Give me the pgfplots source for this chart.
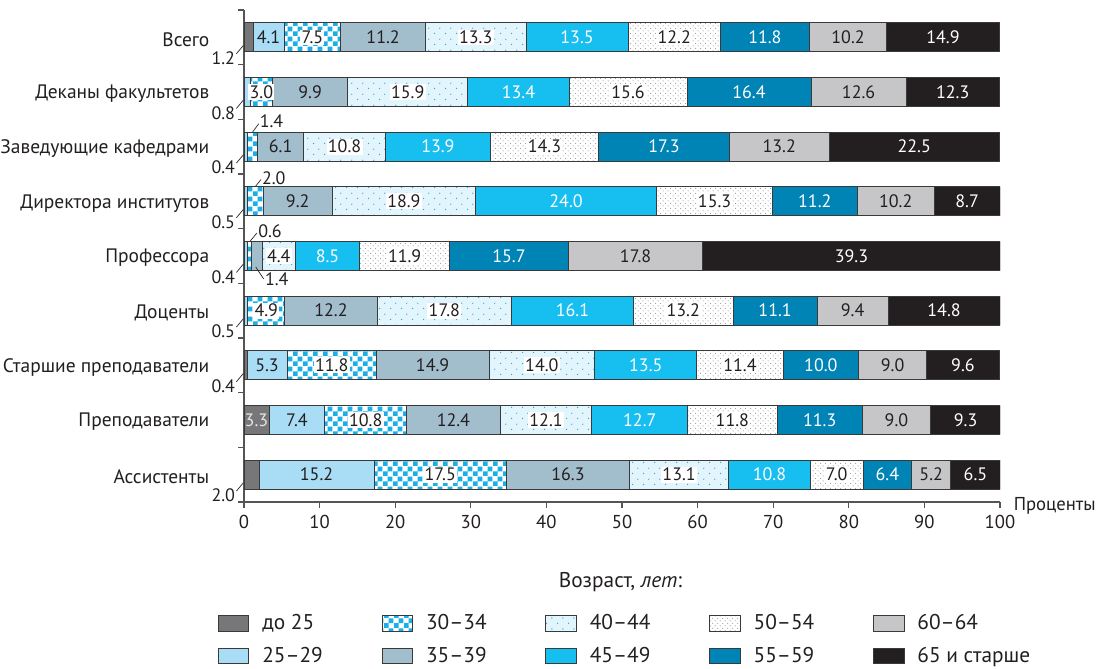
\documentclass[border=0pt]{standalone}
\usepackage{fontspec}
\setmainfont{PT Sans}
\usepackage{pgfplots}
\usepackage{pgfplotstable}
\pgfplotsset{compat=1.18}
\usetikzlibrary{patterns}

\definecolor{c25}{HTML}{77777A}
\definecolor{c2529}{HTML}{A8DDF5}
\definecolor{cchk}{HTML}{1BAFE8}
\definecolor{c3539}{HTML}{A2BDCC}
\definecolor{c4044bg}{HTML}{E2F4FC}
\definecolor{c4044dot}{HTML}{2FA9E0}
\definecolor{c4549}{HTML}{17BEF0}
\definecolor{dotgray}{HTML}{9A9A9A}
\definecolor{c5559}{HTML}{0083B5}
\definecolor{c6064}{HTML}{C6C6C8}
\definecolor{c65}{HTML}{231F20}
\definecolor{edge}{HTML}{3A3A3A}
\definecolor{axgray}{HTML}{555555}
\definecolor{txt}{HTML}{231F20}
\definecolor{labgray}{HTML}{E6E6E6}

\pgfdeclarepatternformonly{checker}{\pgfpointorigin}{\pgfqpoint{7.6pt}{7.6pt}}{\pgfqpoint{7.6pt}{7.6pt}}{%
  \pgfpathrectangle{\pgfpointorigin}{\pgfqpoint{3.8pt}{3.8pt}}%
  \pgfpathrectangle{\pgfqpoint{3.8pt}{3.8pt}}{\pgfqpoint{3.8pt}{3.8pt}}%
  \pgfusepath{fill}}
\pgfdeclarepatternformonly{plusdots}{\pgfpointorigin}{\pgfqpoint{8pt}{8pt}}{\pgfqpoint{8pt}{8pt}}{%
  \pgfpathcircle{\pgfqpoint{2pt}{2pt}}{0.55pt}%
  \pgfpathcircle{\pgfqpoint{6pt}{6pt}}{0.55pt}%
  \pgfusepath{fill}}
\pgfdeclarepatternformonly{finedots}{\pgfpointorigin}{\pgfqpoint{4pt}{4pt}}{\pgfqpoint{4pt}{4pt}}{%
  \pgfpathcircle{\pgfqpoint{1pt}{1pt}}{0.45pt}%
  \pgfpathcircle{\pgfqpoint{3pt}{3pt}}{0.45pt}%
  \pgfusepath{fill}}

\newcommand\fs{\fontsize{14}{16}\selectfont}
\newcommand\cfs{\fontsize{14.6}{16}\selectfont}
\newcommand\lfs{\fontsize{16}{18}\selectfont}
\newcommand\nfs{\fontsize{13.5}{15}\selectfont}
\newcommand\shownum[1]{\ifdim#1pt<2.95pt\else#1\fi}
\newcommand\shownumbox[1]{\ifdim#1pt<2.95pt\else\setlength\fboxsep{1pt}\colorbox{white}{#1}\fi}

\pgfplotsset{
  legbox/.style={legend image code/.code={\draw[##1] (0pt,-5.75pt) rectangle (23pt,5.75pt);}},
  labs/.style={draw=none, mark=none, point meta=explicit symbolic,
     nodes near coords={\shownum{\pgfplotspointmeta}},
     nodes near coords style={anchor=center, inner sep=0pt, font=\nfs, text=txt}},
  labsbox/.style={labs, nodes near coords={\shownumbox{\pgfplotspointmeta}}},
  wt/.style={nodes near coords style={text=white}},
  outl/.style={draw=none, mark=none, nodes near coords, point meta=explicit symbolic,
     nodes near coords style={anchor=#1, inner sep=0pt, font=\nfs, text=txt}},
  lead/.style={line width=0.5pt, txt},
}

% y: 8 = Всего (top) ... 0 = Ассистенты (bottom)
\pgfplotstableread{
y d25 a25 a30 a35 a40 a45 a50 a55 a60 a65
8 1.2 4.1 7.5 11.2 13.3 13.5 12.2 11.8 10.2 14.9
7 0 0.8 3.0 9.9 15.9 13.4 15.6 16.4 12.6 12.3
6 0 0.4 1.4 6.1 10.8 13.9 14.3 17.3 13.2 22.5
5 0 0.5 2.0 9.2 18.9 24.0 15.3 11.2 10.2 8.7
4 0 0.4 0.6 1.4 4.4 8.5 11.9 15.7 17.8 39.3
3 0 0.5 4.9 12.2 17.8 16.1 13.2 11.1 9.4 14.8
2 0.4 5.3 11.8 14.9 14.0 13.5 11.4 10.0 9.0 9.6
1 3.3 7.4 10.8 12.4 12.1 12.7 11.8 11.3 9.0 9.3
0 2.0 15.2 17.5 16.3 13.1 10.8 7.0 6.4 5.2 6.5
}\data
% label positions: middle of each stacked segment
\pgfplotstablecreatecol[create col/expr={\thisrow{d25}}]{s1}\data
\pgfplotstablecreatecol[create col/expr={\thisrow{s1}+\thisrow{a25}}]{s2}\data
\pgfplotstablecreatecol[create col/expr={\thisrow{s2}+\thisrow{a30}}]{s3}\data
\pgfplotstablecreatecol[create col/expr={\thisrow{s3}+\thisrow{a35}}]{s4}\data
\pgfplotstablecreatecol[create col/expr={\thisrow{s4}+\thisrow{a40}}]{s5}\data
\pgfplotstablecreatecol[create col/expr={\thisrow{s5}+\thisrow{a45}}]{s6}\data
\pgfplotstablecreatecol[create col/expr={\thisrow{s6}+\thisrow{a50}}]{s7}\data
\pgfplotstablecreatecol[create col/expr={\thisrow{s7}+\thisrow{a55}}]{s8}\data
\pgfplotstablecreatecol[create col/expr={\thisrow{s8}+\thisrow{a60}}]{s9}\data
\pgfplotstablecreatecol[create col/expr={\thisrow{d25}/2}]{m1}\data
\pgfplotstablecreatecol[create col/expr={\thisrow{s1}+\thisrow{a25}/2}]{m2}\data
\pgfplotstablecreatecol[create col/expr={\thisrow{s2}+\thisrow{a30}/2}]{m3}\data
\pgfplotstablecreatecol[create col/expr={\thisrow{s3}+\thisrow{a35}/2}]{m4}\data
\pgfplotstablecreatecol[create col/expr={\thisrow{s4}+\thisrow{a40}/2}]{m5}\data
\pgfplotstablecreatecol[create col/expr={\thisrow{s5}+\thisrow{a45}/2}]{m6}\data
\pgfplotstablecreatecol[create col/expr={\thisrow{s6}+\thisrow{a50}/2}]{m7}\data
\pgfplotstablecreatecol[create col/expr={\thisrow{s7}+\thisrow{a55}/2}]{m8}\data
\pgfplotstablecreatecol[create col/expr={\thisrow{s8}+\thisrow{a60}/2}]{m9}\data
\pgfplotstablecreatecol[create col/expr={\thisrow{s9}+\thisrow{a65}/2}]{m10}\data

\begin{document}
\begin{tikzpicture}[font=\fs]
\useasboundingbox (0,0) rectangle (822pt,-501pt);
\begin{axis}[
  at={(183pt,-376.5pt)}, anchor=south west,
  scale only axis, width=567pt, height=369pt,
  xbar stacked, bar width=0.53,
  xmin=0, xmax=100, ymin=-0.5, ymax=8.5,
  axis lines*=left,
  axis line style={draw=axgray, line width=0.9pt},
  tick align=outside, major tick length=4.5pt,
  xtick={0,10,...,100},
  xtick style={draw=axgray, line width=0.8pt},
  ytick={0,...,8},
  yticklabels={Ассистенты, Преподаватели, Старшие преподаватели, Доценты, Профессора, Директора институтов, Заведующие кафедрами, Деканы факультетов, Всего},
  ytick style={draw=none},
  extra y ticks={-0.5,0.5,...,8.5}, extra y tick labels={},
  extra y tick style={ytick style={draw=axgray, line width=0.8pt}},
  yticklabel style={xshift=-18pt, yshift=-1.5pt, font=\cfs, text=txt},
  xticklabel style={yshift=-1.5pt, font=\fs, text=txt},
  /pgf/number format/assume math mode=true,
  every axis plot/.append style={draw=edge, line width=0.6pt},
  xlabel={Возраст, \textit{лет}:},
  xlabel style={at={(axis description cs:0.498,-0.163)}, anchor=center, font=\lfs, text=txt},
  legend columns=5,
  legend cell align=left,
  legend style={at={(axis description cs:-0.035,-0.226)}, anchor=north west,
     draw=none, fill=none, inner sep=0pt, row sep=9.5pt, font=\lfs, text=txt,
     nodes={inner sep=1pt},
     /tikz/every odd column/.append style={column sep=8.75pt},
     /tikz/every even column/.append style={column sep=3.5pt}},
]
\addlegendimage{legbox, fill=c25, draw=edge}\addlegendentry{\makebox[85pt][l]{до 25}}
\addlegendimage{legbox, preaction={fill=white}, pattern=checker, pattern color=cchk, draw=edge}\addlegendentry{\makebox[85pt][l]{30–34}}
\addlegendimage{legbox, preaction={fill=c4044bg}, pattern=plusdots, pattern color=c4044dot, draw=edge}\addlegendentry{\makebox[85pt][l]{40–44}}
\addlegendimage{legbox, preaction={fill=white}, pattern=finedots, pattern color=dotgray, draw=edge}\addlegendentry{\makebox[85pt][l]{50–54}}
\addlegendimage{legbox, fill=c6064, draw=edge}\addlegendentry{\makebox[85pt][l]{60–64}}
\addlegendimage{legbox, fill=c2529, draw=edge}\addlegendentry{\makebox[85pt][l]{25–29}}
\addlegendimage{legbox, fill=c3539, draw=edge}\addlegendentry{\makebox[85pt][l]{35–39}}
\addlegendimage{legbox, fill=c4549, draw=edge}\addlegendentry{\makebox[85pt][l]{45–49}}
\addlegendimage{legbox, fill=c5559, draw=edge}\addlegendentry{\makebox[85pt][l]{55–59}}
\addlegendimage{legbox, fill=c65, draw=edge}\addlegendentry{\makebox[85pt][l]{65 и старше}}

\addplot[fill=c25] table[x=d25,y=y]{\data};
\addplot[fill=c2529] table[x=a25,y=y]{\data};
\addplot[preaction={fill=white}, pattern=checker, pattern color=cchk] table[x=a30,y=y]{\data};
\addplot[fill=c3539] table[x=a35,y=y]{\data};
\addplot[preaction={fill=c4044bg}, pattern=plusdots, pattern color=c4044dot] table[x=a40,y=y]{\data};
\addplot[fill=c4549] table[x=a45,y=y]{\data};
\addplot[preaction={fill=white}, pattern=finedots, pattern color=dotgray] table[x=a50,y=y]{\data};
\addplot[fill=c5559] table[x=a55,y=y]{\data};
\addplot[fill=c6064] table[x=a60,y=y]{\data};
\addplot[fill=c65] table[x=a65,y=y]{\data};
\end{axis}

\begin{axis}[
  at={(183pt,-376.5pt)}, anchor=south west,
  scale only axis, width=567pt, height=369pt,
  xmin=0, xmax=100, ymin=-0.5, ymax=8.5,
  hide axis, clip=false,
]
% values inside the segments
\addplot[labs, nodes near coords style={text=labgray}] table[x=m1,y=y,meta=d25]{\data};
\addplot[labs] table[x=m2,y=y,meta=a25]{\data};
\addplot[labsbox] table[x=m3,y=y,meta=a30]{\data};
\addplot[labs] table[x=m4,y=y,meta=a35]{\data};
\addplot[labsbox] table[x=m5,y=y,meta=a40]{\data};
\addplot[labs, wt] table[x=m6,y=y,meta=a45]{\data};
\addplot[labsbox] table[x=m7,y=y,meta=a50]{\data};
\addplot[labs, wt] table[x=m8,y=y,meta=a55]{\data};
\addplot[labs] table[x=m9,y=y,meta=a60]{\data};
\addplot[labs, wt] table[x=m10,y=y,meta=a65]{\data};
% small values outside the bars
\addplot[outl=north east]
  coordinates {(-1.15,7.74)[1.2] (-1.15,6.74)[0.8] (-1.15,5.74)[0.4] (-1.15,4.74)[0.5]
               (-1.15,3.74)[0.4] (-1.15,2.74)[0.5] (-1.15,1.74)[0.4] (-1.15,-0.26)[2.0]};
\addplot[outl=south west] coordinates {(2.05,6.34)[1.4] (2.35,5.30)[2.0] (1.85,4.33)[0.6]};
\addplot[outl=north west] coordinates {(2.75,3.70)[1.4]};
% leader lines
\addplot[lead] coordinates {(-1.0,7.70) (-0.1,7.85)};
\addplot[lead] coordinates {(-1.0,6.70) (-0.1,6.85)};
\addplot[lead] coordinates {(-1.0,5.70) (-0.1,5.85)};
\addplot[lead] coordinates {(-1.0,4.70) (-0.1,4.85)};
\addplot[lead] coordinates {(-1.0,3.70) (-0.1,3.85)};
\addplot[lead] coordinates {(-1.0,2.70) (-0.1,2.85)};
\addplot[lead] coordinates {(-1.0,1.70) (-0.1,1.85)};
\addplot[lead] coordinates {(-1.0,-0.30) (-0.1,-0.15)};
\addplot[lead] coordinates {(1.15,6.27) (1.95,6.42)};
\addplot[lead] coordinates {(1.5,5.27) (2.25,5.40)};
\addplot[lead] coordinates {(0.75,4.26) (1.7,4.42)};
\addplot[lead] coordinates {(1.55,3.80) (2.6,3.58)};
\node[anchor=west, font=\fs, text=txt] at (axis description cs:1.012,-0.008) {Проценты};
\end{axis}
\end{tikzpicture}
\end{document}
